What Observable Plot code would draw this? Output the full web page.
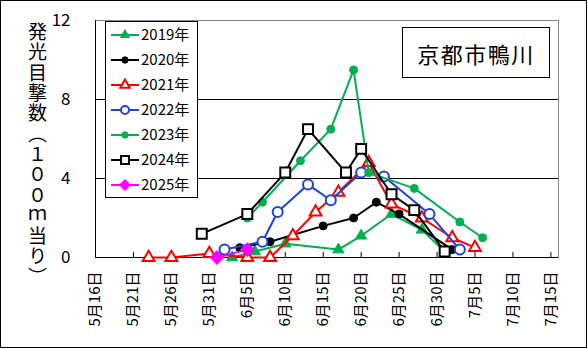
<!DOCTYPE html>
<html><head><meta charset="utf-8">
<script src="https://cdn.jsdelivr.net/npm/d3@7"></script>
<script src="https://cdn.jsdelivr.net/npm/@observablehq/plot@0.6"></script>
<style>
body{margin:0;background:#fff;}
#wrap{position:relative;width:588px;height:349px;overflow:hidden;background:#fff;font-family:"Noto Sans CJK JP",sans-serif;}
#chart{position:absolute;left:0;top:0;}
#frame{position:absolute;left:0;top:0;width:587px;height:348px;border:1px solid #000;box-sizing:border-box;pointer-events:none;}
#ytitle{position:absolute;left:27px;top:22px;writing-mode:vertical-rl;text-orientation:upright;font-size:19px;line-height:20px;letter-spacing:1.4px;color:#000;}
#title{position:absolute;left:402px;top:27px;width:148px;height:51px;box-sizing:border-box;border:1px solid #000;background:#fff;font-size:22px;letter-spacing:1.5px;display:flex;align-items:center;justify-content:center;color:#000;}
#legend{position:absolute;left:105px;top:21px;}
</style>
</head><body>
<div id="wrap">
  <div id="chart"></div>
  <div id="ytitle">発光目撃数（１００ｍ当り）</div>
  <div id="title">京都市鴨川</div>
  <svg id="legend" width="94" height="178"></svg>
  <div id="frame"></div>
</div>
<script>
// ---- data ----
const seriesNames = ["2019年","2020年","2021年","2022年","2023年","2024年","2025年"];
const dates2019 = ["6/3","6/6","6/10","6/17","6/20","6/24","6/28","7/1"];
const values2019 = [0,0.3,0.7,0.4,1.1,2.2,1.4,0.3];
const dates2020 = ["6/4","6/8","6/15","6/19","6/22","6/25","7/2"];
const values2020 = [0.5,0.8,1.6,2.0,2.8,2.2,0.4];
const dates2021 = ["5/23","5/26","5/31","6/5","6/8","6/11","6/14","6/17","6/21","6/24","6/28","7/2","7/5"];
const values2021 = [0,0,0.2,0,0,1.1,2.3,3.3,4.8,2.7,2.0,1.0,0.5];
const dates2022 = ["6/2","6/7","6/9","6/13","6/16","6/20","6/23","6/29","7/3"];
const values2022 = [0.4,0.8,2.3,3.7,2.9,4.3,4.1,2.2,0.4];
const dates2023 = ["6/5","6/7","6/12","6/16","6/19","6/21","6/27","7/3","7/6"];
const values2023 = [2.0,2.8,4.9,6.5,9.5,4.3,3.5,1.8,1.0];
const dates2024 = ["5/30","6/5","6/10","6/13","6/18","6/20","6/24","6/27","7/1"];
const values2024 = [1.2,2.2,4.3,6.5,4.3,5.5,3.2,2.4,0.3];
const dates2025 = ["6/1","6/5"];
const values2025 = [0.0,0.4];
const xTickLabels = ["5/16","5/21","5/26","5/31","6/5","6/10","6/15","6/20","6/25","6/30","7/5","7/10","7/15"];
const xDomainLabels = ["5/16","7/16"];
const yTicks = [0,4,8,12];
const yGrid = [4,8];

// ---- helpers ----
const parse = s => { const [m,d] = s.split("/").map(Number); return new Date(Date.UTC(2000, m-1, d)); };
const fmt = d => `${d.getUTCMonth()+1}月${d.getUTCDate()}日`;
const styles = [
  {stroke:"#00B050", symbol:"triangle", fill:"#00B050", r:4.2, sw:1},
  {stroke:"#000000", symbol:"circle", fill:"#000000", r:4, sw:1},
  {stroke:"#FF0000", symbol:"triangle", fill:"#FFFFFF", r:4.4, sw:2},
  {stroke:"#2040E0", symbol:"circle", fill:"#FFFFFF", r:5, sw:2},
  {stroke:"#00B050", symbol:"circle", fill:"#00B050", r:4, sw:1},
  {stroke:"#000000", symbol:"square", fill:"#FFFFFF", r:5.6, sw:2},
  {stroke:"#FF00FF", symbol:"diamond2", fill:"#FF00FF", r:6.2, sw:1}
];
const allDates = [dates2019,dates2020,dates2021,dates2022,dates2023,dates2024,dates2025];
const allValues = [values2019,values2020,values2021,values2022,values2023,values2024,values2025];
const series = seriesNames.map((name,i) => allDates[i].map((d,j) => ({name, date: parse(d), value: allValues[i][j]})));

const xDomain = xDomainLabels.map(parse);
const xTicks = xTickLabels.map(parse);

const marks = [
  Plot.frame({stroke:"#888"}),
  Plot.ruleY(yGrid, {stroke:"#000", strokeWidth:1}),
  Plot.ruleY([0], {stroke:"#000", strokeWidth:1}),
  Plot.ruleX([xDomain[0]], {stroke:"#000", strokeWidth:1}),
  Plot.ruleX(xTicks, {y1:0, y2:0, insetTop:-5, stroke:"#000"}),
  Plot.axisX({ticks: xTicks, tickFormat: fmt, tickRotate: -90, tickSize: 0, tickPadding: 14, fontSize: 15, label: null}),
  Plot.axisY({ticks: yTicks, tickSize: 0, tickPadding: 25, fontSize: 17, label: null})
];
series.forEach((data,i) => {
  const s = styles[i];
  marks.push(Plot.line(data, {x:"date", y:"value", stroke:s.stroke, strokeWidth:2}));
  marks.push(Plot.dot(data, {x:"date", y:"value", symbol:()=>s.symbol, r:s.r, fill:s.fill, stroke:s.stroke, strokeWidth:s.sw}));
});

const chart = Plot.plot({
  width: 588, height: 349,
  marginLeft: 95, marginRight: 30, marginTop: 20, marginBottom: 92,
  style: {fontFamily: '"Noto Sans CJK JP", sans-serif', color:"#000", background:"transparent", overflow:"visible"},
  x: {type:"utc", domain: xDomain},
  y: {domain:[0,12]},
  symbol: {type: "identity"},
  marks
});
document.getElementById("chart").appendChild(chart);

// ---- legend ----
const lg = d3.select("#legend");
lg.append("rect").attr("x",0.5).attr("y",0.5).attr("width",92).attr("height",176).attr("fill","#fff").attr("stroke","#000");
const symMap = {triangle:d3.symbolTriangle, circle:d3.symbolCircle, square:d3.symbolSquare, diamond2:d3.symbolDiamond2};
seriesNames.forEach((name,i) => {
  const s = styles[i];
  const y = 14 + i*25;
  const g = lg.append("g").attr("transform",`translate(0,${y})`);
  g.append("line").attr("x1",6).attr("x2",34).attr("y1",0).attr("y2",0).attr("stroke",s.stroke).attr("stroke-width",2);
  const rr = s.r*0.8;
  g.append("path").attr("transform","translate(20,0)")
    .attr("d", d3.symbol(symMap[s.symbol], Math.PI*rr*rr)())
    .attr("fill", s.fill).attr("stroke", s.stroke).attr("stroke-width", s.sw);
  g.append("text").attr("x",36).attr("y",0).attr("dy","0.36em").attr("font-size",15)
    .attr("font-family",'"Noto Sans CJK JP", sans-serif').attr("fill","#000").text(name);
});
</script>
</body></html>
